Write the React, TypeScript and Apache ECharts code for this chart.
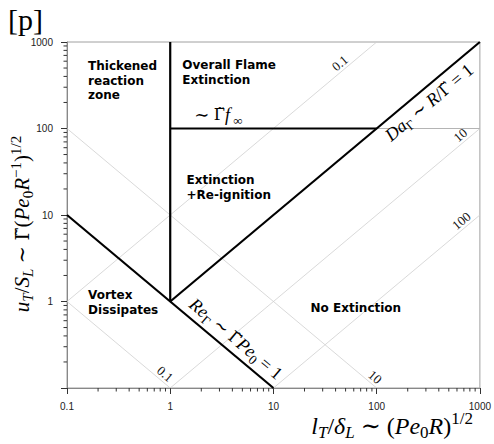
import React, { useEffect, useRef } from 'react';
import * as echarts from 'echarts';

const SERIF = "'Liberation Serif', 'DejaVu Serif', serif";
const GAMMA_FONT = "'DejaVu Serif', serif";
const SANS_BOLD = "'DejaVu Sans', sans-serif";
const TICK_FONT = "'Liberation Sans', 'DejaVu Sans', sans-serif";
const AXIS = '#888888';
const NB = '\u00a0';

// axis ranges & ticks
const X_MIN = 0.1;
const X_MAX = 1000;
const Y_MIN = 0.1;
const Y_MAX = 1000;
const DECADES = [0.1, 1, 10, 100];
const MINOR_MULTIPLES = [2, 3, 4, 5, 6, 7, 8, 9];

// regime boundaries (thick black)
const RE_UNITY = [[0.1, 10], [10, 0.1]];
const THICKENED_EDGE = [[1, 1], [1, 1000]];
const GAMMA_F_EDGE = [[1, 100], [100, 100]];
const DA_UNITY = [[1, 1], [1000, 1000]];

// guide lines (thin grey)
const DA_01 = [[0.1, 1], [100, 1000]];
const DA_10 = [[1, 0.1], [1000, 100]];
const DA_100 = [[10, 0.1], [1000, 10]];
const RE_01 = [[0.1, 1], [1, 0.1]];
const RE_10 = [[0.1, 100], [100, 0.1]];
const GAMMA_F_EXT = [[100, 100], [1000, 100]];

// region labels
const REGION_TEXT = [
  'Thickened\nreaction\nzone',
  'Overall Flame\nExtinction',
  'Extinction\n+Re-ignition',
  'Vortex\nDissipates',
  'No Extinction',
];
const REGION_AT = [[0.16, 640], [1.31, 650], [1.44, 30.4], [0.16, 1.43], [22.9, 1.03]];

// guide line labels
const GUIDE_TEXT = ['0.1', '10', '100', '0.1', '10'];
const GUIDE_AT = [[49, 490], [720, 72], [736, 7.36], [0.8, 0.125], [87, 0.115]];
const GUIDE_SLOPE = [1, 1, 1, -1, -1];

// boundary labels (math)
const MATH_TEXT = [
  `{i|Da}{sr|Γ}{r|${NB}∼${NB}}{i|R}{r|/}{g|Γ\u0303}{r|${NB}=${NB}1}`,
  `{i|Re}{sr|Γ}{r|${NB}∼${NB}}{g|Γ\u0303}{i|Pe}{sr|0}{r|${NB}=${NB}1}`,
  `{r|∼${NB}}{g|Γ\u0303}{i|f}{sr|${NB}∞}`,
];
const MATH_AT = [[265, 265], [3.57, 0.28], [1.71, 100]];
const MATH_SLOPE = [1, -1, 0];
const MATH_SIDE = ['below', 'above', 'above'];
const MATH_ALIGN = ['center', 'center', 'left'];

const X_TITLE = `{i|l}{si|T}{r|/}{i|δ}{si|L}{r|${NB}∼${NB}(}{i|Pe}{sr|0}{i|R}{r|)}{p|1/2}`;
const Y_TITLE = `{i|u}{si|T}{r|/}{i|S}{si|L}{r|${NB}∼${NB}}{g|Γ\u0303}{r|(}{i|Pe}{sr|0}{i|R}{p|−1}{r|)}{p|1/2}`;

function mathRich(size: number) {
  const sub = Math.round(size * 0.7);
  const lh = size * 1.3;
  return {
    i: { fontFamily: SERIF, fontStyle: 'italic', fontSize: size, lineHeight: lh, fill: '#000' },
    r: { fontFamily: SERIF, fontSize: size, lineHeight: lh, fill: '#000' },
    g: { fontFamily: GAMMA_FONT, fontSize: size * 0.9, lineHeight: lh, fill: '#000' },
    si: { fontFamily: SERIF, fontStyle: 'italic', fontSize: sub, lineHeight: sub, verticalAlign: 'bottom', fill: '#000' },
    sr: { fontFamily: SERIF, fontSize: sub, lineHeight: sub, verticalAlign: 'bottom', fill: '#000' },
    p: { fontFamily: SERIF, fontSize: sub, lineHeight: sub, verticalAlign: 'top', fill: '#000' },
  };
}

function fmt(v: number) {
  return String(parseFloat(Number(v).toPrecision(4)));
}

function lineSeries(data: number[][], color: string, width: number, z: number) {
  return {
    type: 'line',
    data,
    symbol: 'none',
    silent: true,
    z,
    lineStyle: { color, width },
  };
}

function angleFor(api: any, x: number, y: number, slope: number) {
  if (slope === 0) return 0;
  const p = api.coord([x, y]);
  const q = api.coord([x * 10, y * Math.pow(10, slope)]);
  return Math.atan2(-(q[1] - p[1]), q[0] - p[0]);
}

export default function App() {
  const ref = useRef<HTMLDivElement>(null);
  useEffect(() => {
    const chart = echarts.init(ref.current!, null, { renderer: 'svg' });
    const minorVals = DECADES.flatMap((d) => MINOR_MULTIPLES.map((m) => parseFloat((d * m).toPrecision(3))));

    const option: any = {
      animation: false,
      backgroundColor: '#ffffff',
      grid: {
        left: 67,
        right: 12,
        top: 42,
        bottom: 56,
        show: true,
        borderColor: '#a0a0a0',
        borderWidth: 1,
      },
      xAxis: {
        type: 'log',
        logBase: 10,
        min: X_MIN,
        max: X_MAX,
        axisLine: { show: true, onZero: false, lineStyle: { color: AXIS, width: 1 } },
        axisTick: { show: true, length: 6, lineStyle: { color: '#333' } },
        axisLabel: {
          fontFamily: TICK_FONT,
          fontSize: 10,
          color: '#222',
          margin: 13,
          showMinLabel: true,
          showMaxLabel: true,
          formatter: (v: number) => fmt(v),
        },
        splitLine: { show: false },
      },
      yAxis: {
        type: 'log',
        logBase: 10,
        min: Y_MIN,
        max: Y_MAX,
        axisLine: { show: true, onZero: false, lineStyle: { color: AXIS, width: 1 } },
        axisTick: { show: true, length: 6, lineStyle: { color: '#333' } },
        axisLabel: {
          fontFamily: TICK_FONT,
          fontSize: 10,
          color: '#222',
          margin: 14,
          showMinLabel: true,
          showMaxLabel: true,
          formatter: (v: number) => (v < 0.5 ? '' : fmt(v)),
        },
        splitLine: { show: false },
      },
      series: [
        lineSeries(DA_01, '#cfcfcf', 0.8, 1),
        lineSeries(DA_10, '#cfcfcf', 0.8, 1),
        lineSeries(DA_100, '#cfcfcf', 0.8, 1),
        lineSeries(RE_01, '#cfcfcf', 0.8, 1),
        lineSeries(RE_10, '#cfcfcf', 0.8, 1),
        lineSeries(GAMMA_F_EXT, '#b4b4b4', 1, 1),
        lineSeries(RE_UNITY, '#000', 2.2, 3),
        lineSeries(THICKENED_EDGE, '#000', 2.2, 3),
        lineSeries(GAMMA_F_EDGE, '#000', 2.2, 3),
        lineSeries(DA_UNITY, '#000', 2.2, 3),
        {
          type: 'custom',
          silent: true,
          clip: false,
          z: 5,
          data: minorVals.map((v) => [v, Y_MIN]),
          renderItem: (params: any, api: any) => {
            const p = api.coord([api.value(0), api.value(1)]);
            return {
              type: 'line',
              shape: { x1: p[0], y1: p[1], x2: p[0], y2: p[1] + 3.5 },
              style: { stroke: '#333', lineWidth: 1 },
            };
          },
        },
        {
          type: 'custom',
          silent: true,
          clip: false,
          z: 5,
          data: minorVals.map((v) => [X_MIN, v]),
          renderItem: (params: any, api: any) => {
            const p = api.coord([api.value(0), api.value(1)]);
            return {
              type: 'line',
              shape: { x1: p[0] - 3.5, y1: p[1], x2: p[0], y2: p[1] },
              style: { stroke: '#333', lineWidth: 1 },
            };
          },
        },
        {
          type: 'custom',
          silent: true,
          clip: false,
          z: 6,
          data: REGION_AT,
          renderItem: (params: any, api: any) => {
            const p = api.coord([api.value(0), api.value(1)]);
            return {
              type: 'text',
              x: p[0],
              y: p[1],
              style: {
                text: REGION_TEXT[params.dataIndex],
                fontFamily: SANS_BOLD,
                fontWeight: 'bold',
                fontSize: 12,
                lineHeight: 14.5,
                fill: '#000',
                align: 'left',
                verticalAlign: 'top',
              },
            };
          },
        },
        {
          type: 'custom',
          silent: true,
          clip: false,
          z: 6,
          data: GUIDE_AT,
          renderItem: (params: any, api: any) => {
            const i = params.dataIndex;
            const x = api.value(0);
            const y = api.value(1);
            const p = api.coord([x, y]);
            return {
              type: 'text',
              x: p[0],
              y: p[1],
              rotation: angleFor(api, x, y, GUIDE_SLOPE[i]),
              style: {
                text: GUIDE_TEXT[i],
                fontFamily: SERIF,
                fontSize: 13,
                fill: '#111',
                align: 'center',
                verticalAlign: 'bottom',
                y: -1,
              },
            };
          },
        },
        {
          type: 'custom',
          silent: true,
          clip: false,
          z: 6,
          data: MATH_AT,
          renderItem: (params: any, api: any) => {
            const i = params.dataIndex;
            const x = api.value(0);
            const y = api.value(1);
            const p = api.coord([x, y]);
            const below = MATH_SIDE[i] === 'below';
            return {
              type: 'text',
              x: p[0],
              y: p[1],
              rotation: angleFor(api, x, y, MATH_SLOPE[i]),
              style: {
                text: MATH_TEXT[i],
                rich: mathRich(18),
                align: MATH_ALIGN[i],
                verticalAlign: below ? 'top' : 'bottom',
                y: below ? 2 : -2,
              },
            };
          },
        },
      ],
      graphic: [
        {
          type: 'text',
          left: 8,
          top: 4,
          style: { text: '[p]', fontFamily: SERIF, fontSize: 30, fill: '#000' },
        },
        {
          type: 'text',
          right: 21,
          top: 410,
          style: { text: X_TITLE, rich: mathRich(24) },
        },
        {
          type: 'text',
          x: 22,
          y: 224,
          rotation: Math.PI / 2,
          style: { text: Y_TITLE, rich: mathRich(21), align: 'center', verticalAlign: 'middle' },
        },
      ],
    };
    chart.setOption(option);
    return () => chart.dispose();
  }, []);
  return (
    <div
      ref={ref}
      style={{ position: 'absolute', left: 0, top: 0, width: 494, height: 444 }}
    />
  );
}
